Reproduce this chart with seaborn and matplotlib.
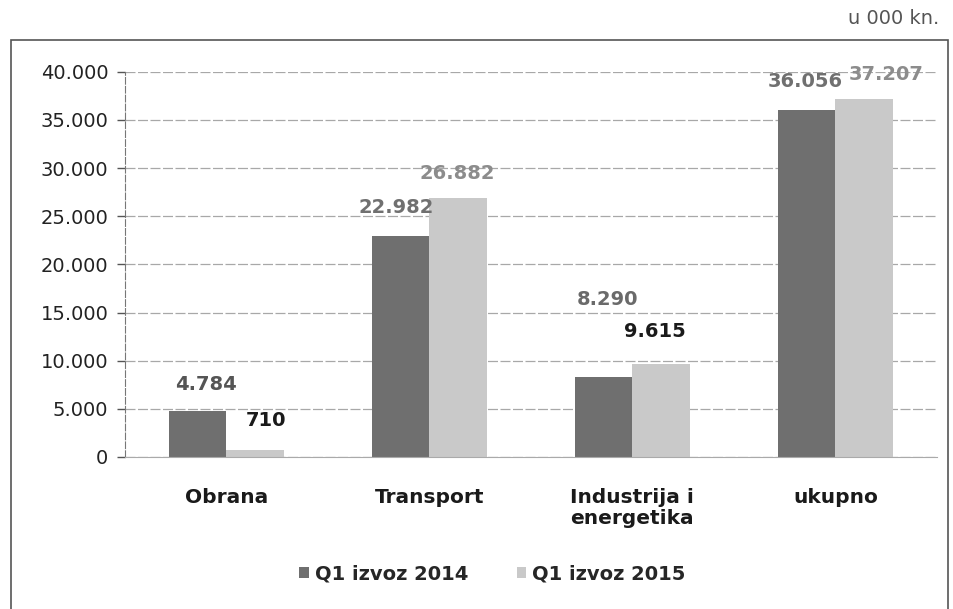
import pandas as pd
import seaborn as sns
import matplotlib.pyplot as plt
from matplotlib.patches import Rectangle

# data (u 000 kn.)
categories = ["Obrana", "Transport", "Industrija i\nenergetika", "ukupno"]
series = ["Q1 izvoz 2014", "Q1 izvoz 2015"]
izvoz_2014 = [4784, 22982, 8290, 36056]
izvoz_2015 = [710, 26882, 9615, 37207]
y_ticks = [0, 5000, 10000, 15000, 20000, 25000, 30000, 35000, 40000]

# label look (offsets in pixels from top of bar)
label_offsets = {
    0: [(8, 26), (-4, 28), (4, 78), (-1, 28)],
    1: [(11, 30), (-1, 25), (-6, 33), (22, 24)],
}
label_colors = {
    0: ["#555555", "#707070", "#6a6a6a", "#707070"],
    1: ["#1a1a1a", "#8c8c8c", "#1a1a1a", "#8c8c8c"],
}


def fmt(v):
    return f"{v:,}".replace(",", ".")


if __name__ == '__main__':
    df = pd.DataFrame({
        "kategorija": categories * 2,
        "serija": [series[0]] * 4 + [series[1]] * 4,
        "vrijednost": izvoz_2014 + izvoz_2015,
    })

    sns.set_style("white")
    plt.rcParams['font.family'] = ['DejaVu Sans']

    fig = plt.figure(figsize=(9.54, 6.09), dpi=100)
    ax = fig.add_axes([0.131, 0.2496, 0.851, 0.6325])

    sns.barplot(data=df, x="kategorija", y="vrijednost", hue="serija",
                palette=["#6f6f6f", "#c9c9c9"], width=0.57, ax=ax,
                saturation=1, legend=True, edgecolor="none")

    ax.set_ylim(0, 40000)
    ax.set_xlim(-0.5, 3.5)
    ax.set_yticks(y_ticks)
    ax.set_yticklabels([fmt(t) for t in y_ticks], fontsize=14, color="#222222")
    ax.set_xticks(range(len(categories)))
    ax.set_xticklabels(categories, fontsize=14.5, fontweight="bold", color="#1a1a1a",
                       linespacing=1.15)
    ax.tick_params(axis="x", length=0, pad=22)
    ax.tick_params(axis="y", length=6, width=1, color="#555555", pad=6, left=True)
    ax.set_xlabel("")
    ax.set_ylabel("")

    ax.yaxis.grid(True, color="#a8a8a8", linestyle=(0, (8, 2)), linewidth=0.9)
    ax.set_axisbelow(True)
    for s in ["top", "right"]:
        ax.spines[s].set_visible(False)
    ax.spines["left"].set_color("#777777")
    ax.spines["left"].set_linestyle((0, (6, 2)))
    ax.spines["bottom"].set_color("#aaaaaa")

    # value labels
    for i, cont in enumerate(ax.containers):
        for j, bar in enumerate(cont):
            dx, dy = label_offsets[i][j]
            ax.annotate(fmt(int(bar.get_height())),
                        (bar.get_x() + bar.get_width() / 2, bar.get_height()),
                        xytext=(dx, dy), textcoords="offset pixels",
                        ha="center", va="center", fontsize=14, fontweight="bold",
                        color=label_colors[i][j])

    # legend at the bottom
    ax.legend_.remove()
    handles, labels = ax.get_legend_handles_labels()
    fig.legend(handles, labels, loc="center", bbox_to_anchor=(0.516, 0.057),
               ncol=2, frameon=False, handlelength=0.5,
               handleheight=0.5, handletextpad=0.3, columnspacing=2.5,
               prop={"weight": "bold", "size": 14})

    # unit text and outer frame
    fig.text(0.985, 0.97, "u 000 kn.", ha="right", va="center", fontsize=14,
             color="#555555")
    fig.patches.append(Rectangle((0.012, -0.05), 0.982, 0.985,
                                 transform=fig.transFigure, fill=False,
                                 edgecolor="#555555", linewidth=1.2))

    fig.savefig("out.png", dpi=100)
